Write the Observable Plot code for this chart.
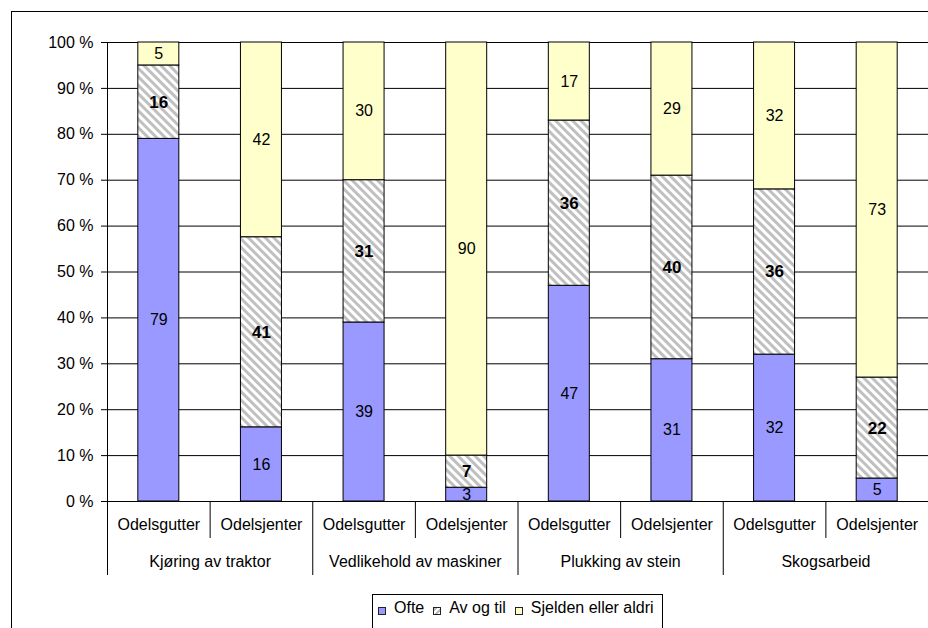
<!DOCTYPE html>
<html>
<head>
<meta charset="utf-8">
<script src="https://cdn.jsdelivr.net/npm/d3@7"></script>
<script src="https://cdn.jsdelivr.net/npm/@observablehq/plot@0.6"></script>
<style>
html, body { margin: 0; padding: 0; background: #fff; width: 928px; height: 628px; overflow: hidden; position: relative; font-family: "Liberation Sans", Arial, sans-serif; }
#frame { position: absolute; left: 11px; top: 11px; width: 1000px; height: 1000px; border-left: 1px solid #000; border-top: 1px solid #000; box-sizing: border-box; }
#chart { position: absolute; left: 0; top: 0; }
#legend { position: absolute; left: 372px; top: 594px; width: 291px; height: 60px; border: 1px solid #000; box-sizing: border-box; background: #fff;
  font-size: 16px; line-height: 18px; padding: 4px 0 0 5px; display: flex; align-items: flex-start; color: #000; white-space: nowrap; }
#legend .item { display: flex; align-items: flex-start; margin-right: 9px; }
#legend .sw { width: 8px; height: 8px; border: 1px solid #222; box-sizing: border-box; margin-top: 8px; margin-right: 8px; }
</style>
</head>
<body>
<div id="frame"></div>
<div id="chart"></div>
<div id="legend"></div>
<script>
// ---- data ----
const groups = ["Kjøring av traktor", "Vedlikehold av maskiner", "Plukking av stein", "Skogsarbeid"];
const subgroups = ["Odelsgutter", "Odelsjenter"];
const series = ["Ofte", "Av og til", "Sjelden eller aldri"];
const ofte    = [79, 16, 39, 3, 47, 31, 32, 5];
const avOgTil = [16, 41, 31, 7, 36, 40, 36, 22];
const sjelden = [5, 42, 30, 90, 17, 29, 32, 73];
const yTicks = [0, 10, 20, 30, 40, 50, 60, 70, 80, 90, 100];
const colors = ["#9999FF", "url(#hatch)", "#FFFFCC"];

const seriesValues = [ofte, avOgTil, sjelden];
const nBars = ofte.length;
const data = [];
for (let i = 0; i < nBars; i++) {
  series.forEach((s, k) => data.push({pos: i, series: s, value: seriesValues[k][i]}));
}

const W = 928, H = 628, mL = 107, mR = 0, mT = 42, mB = 127;
const step = (W - mL - mR) / nBars;
const barW = 41;
const inset = (step - barW) / 2;

const boldSeries = "Av og til";
const yT = yTicks.map(t => t / 100);

const svg = Plot.plot({
  width: W, height: H,
  marginLeft: mL, marginRight: mR, marginTop: mT, marginBottom: mB,
  style: {fontFamily: '"Liberation Sans", Arial, sans-serif', fontSize: "16px", background: "transparent", color: "#000", overflow: "visible"},
  x: {type: "linear", domain: [0, nBars], label: null},
  y: {domain: [0, 1], label: null},
  color: {type: "ordinal", domain: series, range: colors},
  marks: [
    Plot.ruleY(yT, {stroke: "#000", strokeWidth: 1}),
    Plot.ruleX([0], {stroke: "#000"}),
    Plot.rectY(data, Plot.stackY({
      x1: "pos", x2: d => d.pos + 1, y: "value", fill: "series",
      offset: "normalize", insetLeft: inset, insetRight: inset,
      stroke: "#000", strokeWidth: 1
    })),
    Plot.text(data, Plot.stackY({
      x: d => d.pos + 0.5, y: "value", z: "series", offset: "normalize",
      text: d => d.series === boldSeries ? null : String(d.value),
      fill: "#000", fontSize: 16
    })),
    Plot.text(data, Plot.stackY({
      x: d => d.pos + 0.5, y: "value", z: "series", offset: "normalize",
      text: d => d.series === boldSeries ? String(d.value) : null,
      fill: "#000", fontSize: 17, fontWeight: "bold"
    })),
    Plot.axisY({ticks: yT, tickFormat: d => `${Math.round(d * 100)} %`, tickSize: 6, tickPadding: 8, stroke: "#000", fill: "#000"}),
    Plot.axisX({ticks: d3.range(1, nBars, 2), tickSize: 37, tickFormat: () => "", stroke: "#000"}),
    Plot.axisX({ticks: d3.range(0, nBars, 2), tickSize: 74, tickFormat: () => "", stroke: "#000"}),
    Plot.axisX({ticks: d3.range(0.5, nBars, 1), tickSize: 0, tickPadding: 17, tickFormat: d => subgroups[Math.floor(d) % 2], fill: "#000"}),
    Plot.axisX({ticks: d3.range(1, nBars, 2), tickSize: 0, tickPadding: 54, tickFormat: d => groups[(d - 1) / 2], fill: "#000"})
  ]
});

const defs = d3.select(svg).insert("defs", ":first-child");
const pat = defs.append("pattern").attr("id", "hatch").attr("patternUnits", "userSpaceOnUse")
  .attr("width", 6).attr("height", 6).attr("patternTransform", "rotate(-45)");
pat.append("rect").attr("width", 6).attr("height", 6).attr("fill", "#fff");
pat.append("rect").attr("width", 3).attr("height", 6).attr("fill", "#C0C0C0");

document.getElementById("chart").appendChild(svg);

// legend
const legend = d3.select("#legend");
const swatchBg = ["#9999FF", "repeating-linear-gradient(-45deg, #fff 0 2px, #bbb 2px 4px)", "#FFFFCC"];
series.forEach((s, k) => {
  const item = legend.append("div").attr("class", "item");
  item.append("div").attr("class", "sw").style("background", swatchBg[k]);
  item.append("span").text(s);
});
</script>
</body>
</html>
